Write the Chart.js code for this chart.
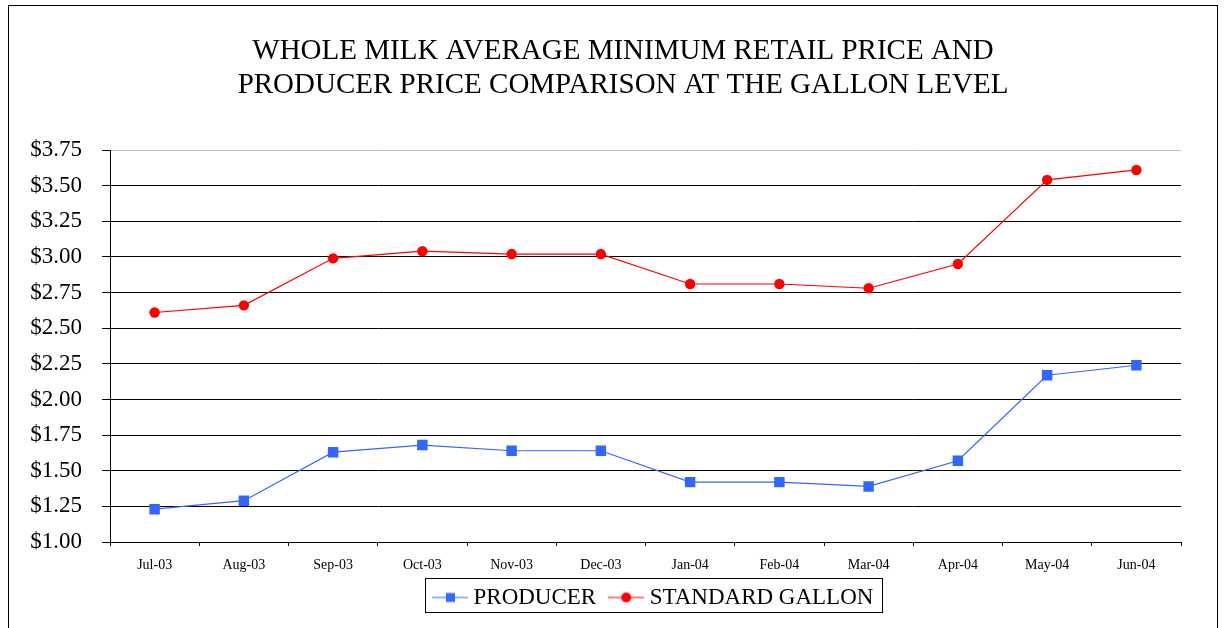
<!DOCTYPE html>
<html><head><meta charset="utf-8">
<script src="https://cdn.jsdelivr.net/npm/chart.js@4.4.0/dist/chart.umd.min.js"></script>
<style>html,body{margin:0;padding:0;background:#fff;}#wrap{width:1225px;height:628px;}</style>
</head><body><div id="wrap"><canvas id="c" width="1225" height="628"></canvas></div>
<script>
const categories = ['Jul-03','Aug-03','Sep-03','Oct-03','Nov-03','Dec-03','Jan-04','Feb-04','Mar-04','Apr-04','May-04','Jun-04'];
const producer = [1.23,1.29,1.63,1.68,1.64,1.64,1.42,1.42,1.39,1.57,2.17,2.24];
const standardGallon = [2.61,2.66,2.99,3.04,3.02,3.02,2.81,2.81,2.78,2.95,3.54,3.61];
const seriesNames = ['PRODUCER','STANDARD GALLON'];
const titleLines = ['WHOLE MILK AVERAGE MINIMUM RETAIL PRICE AND','PRODUCER PRICE COMPARISON AT THE GALLON LEVEL'];
const yMin = 1.00, yMax = 3.75, yStep = 0.25;

const FONT = "'Liberation Serif', 'Times New Roman', serif";
Chart.defaults.font.family = FONT;
Chart.defaults.color = '#000';

function legendIcon(color, style) {
  const c = document.createElement('canvas');
  c.width = 36; c.height = 14;
  const g = c.getContext('2d');
  g.strokeStyle = color; g.lineWidth = 1.2;
  g.beginPath(); g.moveTo(0, 7); g.lineTo(36, 7); g.stroke();
  g.fillStyle = color;
  if (style === 'rect') { g.fillRect(14, 2.5, 9, 9); }
  else { g.beginPath(); g.arc(18, 7, 5, 0, Math.PI * 2); g.fill(); }
  return c;
}
const icons = [legendIcon('#3366FF', 'rect'), legendIcon('#FF0000', 'circle')];

const framePlugin = {
  id: 'frame',
  afterLayout(chart) {
    const t = chart.titleBlock;
    if (t) { const dx = 623 - (t.left + t.right) / 2; t.left += dx; t.right += dx; }
    const lg = chart.legend;
    if (lg && lg.lineWidths) {
      const pad = lg.options.labels.padding;
      const x0 = (lg.left + pad + lg.right - lg.lineWidths[0]) / 2;
      const dx = 438 - x0; lg.left += dx; lg.right += dx;
      const dy = 568 - lg.top; lg.top += dy; lg.bottom += dy;
    }
  },
  beforeDraw(chart) {
    const ctx = chart.ctx;
    ctx.save(); ctx.fillStyle = '#fff'; ctx.fillRect(0, 0, chart.width, chart.height); ctx.restore();
  },
  afterDraw(chart) {
    const ctx = chart.ctx;
    ctx.save();
    ctx.strokeStyle = '#000'; ctx.lineWidth = 1;
    ctx.strokeRect(8.5, 5.5, 1209, 700);
    const hb = chart.legend && chart.legend.legendHitBoxes;
    if (hb && hb.length) {
      const l = Math.round(hb[0].left - 13) + 0.5;
      const last = hb[hb.length - 1];
      const r = Math.round(last.left + last.width + 9) + 0.5;
      const t = Math.round(hb[0].top - 8) + 0.5;
      const b = Math.round(hb[0].top + 26) + 0.5;
      ctx.strokeRect(l, t, r - l, b - t);
    }
    ctx.restore();
  }
};

new Chart(document.getElementById('c'), {
  type: 'line',
  data: {
    labels: categories,
    datasets: [
      { label: seriesNames[0], data: producer, borderColor: '#3366FF', backgroundColor: '#3366FF',
        borderWidth: 1.2, pointStyle: 'rect', pointRadius: 7.4, pointBorderWidth: 0, pointHoverRadius: 7.4, tension: 0 },
      { label: seriesNames[1], data: standardGallon, borderColor: '#FF0000', backgroundColor: '#FF0000',
        borderWidth: 1.2, pointStyle: 'circle', pointRadius: 5.2, pointBorderWidth: 0, pointHoverRadius: 5.2, tension: 0 }
    ]
  },
  options: {
    responsive: false, animation: false, devicePixelRatio: 1, events: [],
    layout: { padding: { left: 0, right: 44, top: 0, bottom: 1 } },
    plugins: {
      tooltip: { enabled: false },
      title: { display: true, text: titleLines, color: '#000',
        font: { family: FONT, size: 29, weight: 'normal', lineHeight: '34px' },
        padding: { top: 34, bottom: 48 } },
      legend: { position: 'bottom',
        labels: { usePointStyle: true, pointStyleWidth: 24, boxHeight: 14, padding: 18, color: '#000',
          font: { family: FONT, size: 23 },
          generateLabels(chart) {
            const items = Chart.defaults.plugins.legend.labels.generateLabels(chart);
            items.forEach((it, i) => { it.pointStyle = icons[i]; it.fontColor = '#000'; });
            return items;
          } } }
    },
    scales: {
      x: {
        offset: true,
        grid: { offset: true, drawOnChartArea: false, tickLength: 4, tickColor: '#000', color: '#000' },
        border: { color: '#000', width: 1 },
        ticks: { color: '#000', font: { family: FONT, size: 14 }, padding: 11, maxRotation: 0, autoSkip: false },
        afterFit(s) { s.height = 34; }
      },
      y: {
        min: yMin, max: yMax,
        ticks: { stepSize: yStep, padding: 20, color: '#000', font: { family: FONT, size: 23 },
          callback: v => '$' + Number(v).toFixed(2) },
        grid: { color: c => (c.tick && Math.abs(c.tick.value - yMax) < 1e-9) ? '#c0c0c0' : '#000',
          tickColor: '#000', tickLength: 8, lineWidth: 1 },
        border: { color: '#000', width: 1 },
        afterFit(s) { s.width = 110; }
      }
    }
  },
  plugins: [framePlugin]
});
</script></body></html>
